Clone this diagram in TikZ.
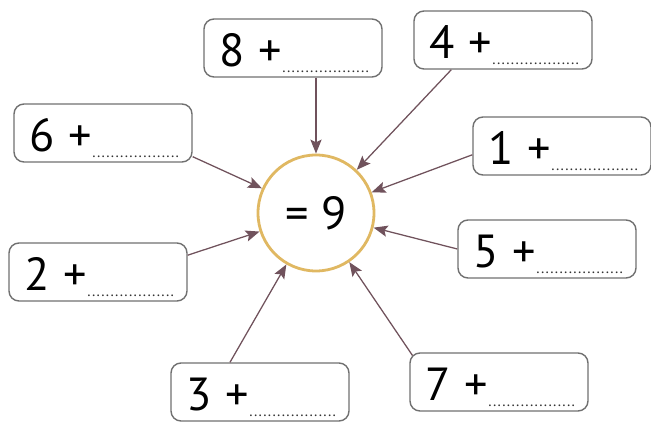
\documentclass[tikz,border=0pt]{standalone}
\usepackage{fontspec}
\setmainfont{PT Sans}
\usetikzlibrary{arrows.meta}
\definecolor{ringcol}{RGB}{224,184,98}
\definecolor{arrowcol}{RGB}{112,82,92}
\definecolor{boxcol}{RGB}{112,112,112}
\definecolor{dotcol}{RGB}{50,50,50}
\newcommand{\sumblank}[1]{\hspace*{0.12cm}#1\hspace{0.33cm}+\raisebox{-0.15cm}[0pt][0pt]{\fontsize{11}{11}\selectfont\color{dotcol}\xleaders\hbox to 0.11cm{\hss.\hss}\hskip 2.2cm}}
\begin{document}
\begin{tikzpicture}[
    numbox/.style={draw=boxcol, line width=1pt, rounded corners=0.25cm,
                   minimum height=1.45cm, text width=3.9cm, inner xsep=0.275cm,
                   text height=0.95cm, text depth=0cm, align=left,
                   font=\fontsize{33}{38}\selectfont},
    ring/.style={circle, draw=ringcol, line width=2pt, fill=white,
                 minimum size=2.9cm, font=\fontsize{33}{38}\selectfont},
    link/.style={-{Stealth[length=10pt, width=8pt, inset=2pt]}, draw=arrowcol, line width=0.9pt}]
    \useasboundingbox (0, 0) rectangle (16.275, 10.575);
    \node[ring] (c) at (7.9, 5.25) {= 9};
    \node[numbox] (b8) at (7.325, 9.375)  {\sumblank{8}};
    \node[numbox] (b4) at (12.575, 9.575) {\sumblank{4}};
    \node[numbox] (b6) at (2.575, 7.25)   {\sumblank{6}};
    \node[numbox] (b1) at (14.05, 6.925)  {\sumblank{1}};
    \node[numbox] (b2) at (2.45, 3.775)   {\sumblank{2}};
    \node[numbox] (b5) at (13.675, 4.35)  {\sumblank{5}};
    \node[numbox] (b3) at (6.5, 0.775)    {\sumblank{3}};
    \node[numbox] (b7) at (12.475, 1.025) {\sumblank{7}};
    % arrow start points on the boxes
    \coordinate (s8) at (b8.south -| c);
    \coordinate (s4) at ([xshift=0.95cm]b4.south west);
    \coordinate (s6) at ([yshift=0.15cm]b6.south east);
    \coordinate (s1) at ([yshift=-0.22cm]b1.west);
    \coordinate (s2) at ([yshift=0.42cm]b2.east);
    \coordinate (s5) at (b5.west);
    \coordinate (s3) at ([xshift=-0.75cm]b3.north);
    \coordinate (s7) at ([shift={(0.08,-0.08)}]b7.north west);
    \foreach \s in {s8, s4, s6, s1, s2, s5, s3, s7}
        \draw[link] (\s) -- (c);
\end{tikzpicture}
\end{document}
